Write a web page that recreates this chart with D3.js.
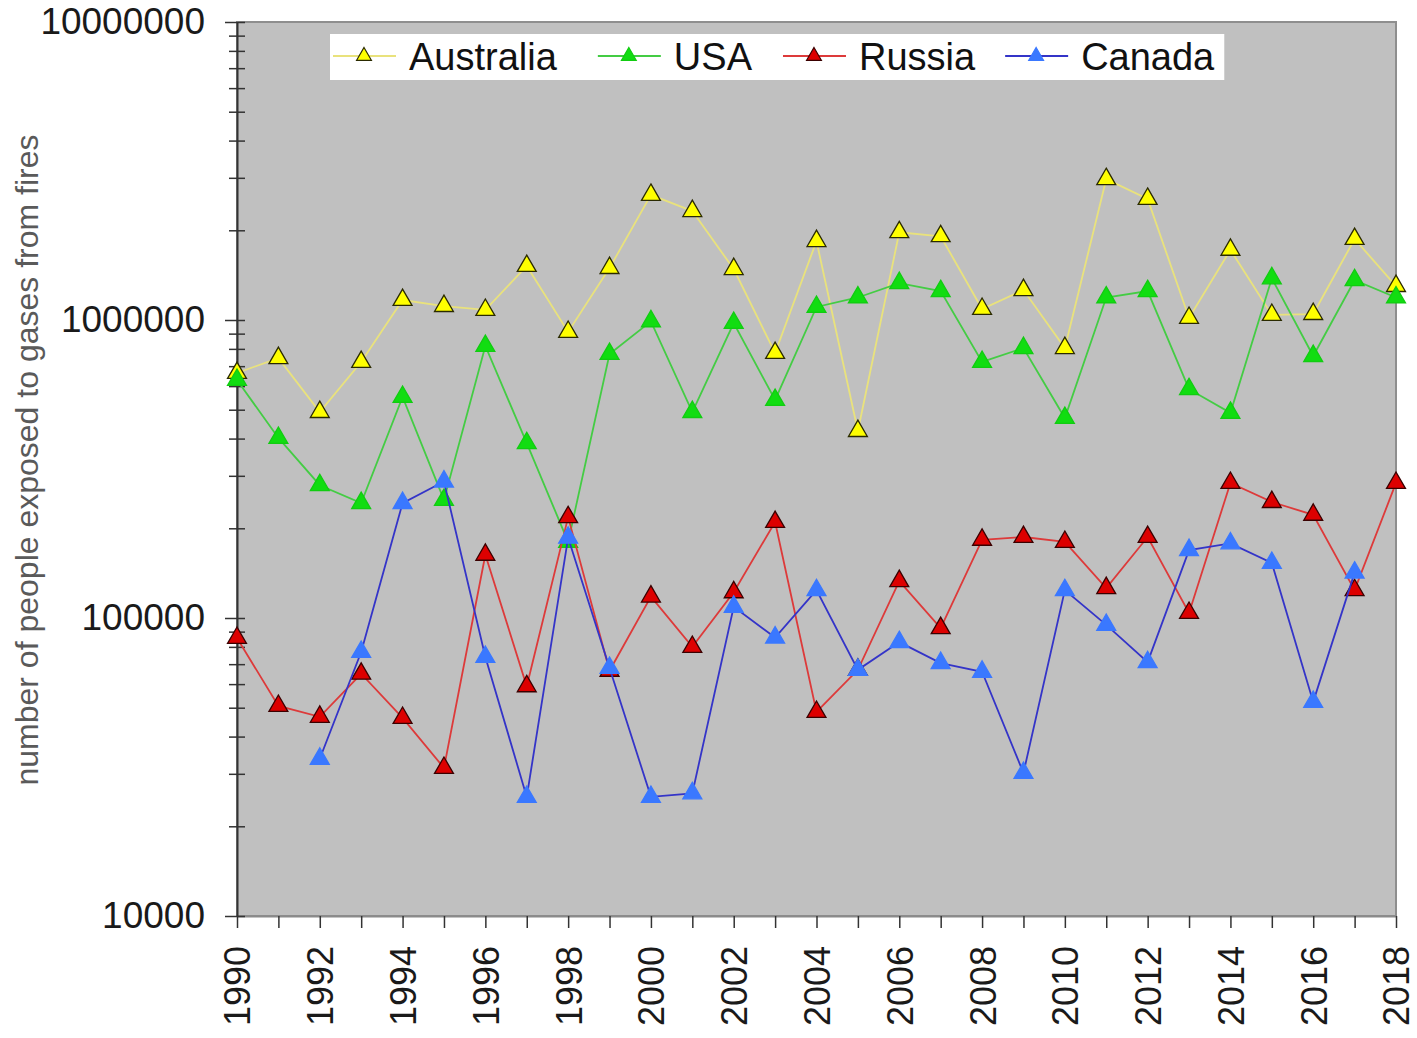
<!DOCTYPE html>
<html>
<head>
<meta charset="utf-8">
<script src="https://cdn.jsdelivr.net/npm/d3@7"></script>
<style>
  body { margin: 0; background: #fff; }
  svg { display: block; font-family: Arial, "Liberation Sans", sans-serif; }
</style>
</head>
<body>
<svg id="chart" width="1417" height="1038"></svg>
<script>
// data (people exposed to gases from fires)
var years = d3.range(1990, 2019);
var australia = [664000, 745000, 491000, 723000, 1167000, 1114000, 1081000, 1518000, 912000, 1494000,
                 2630000, 2320000, 1482000, 775000, 1840000, 424000, 1970000, 1910000, 1089000, 1260000,
                 805000, 2970000, 2550000, 1016000, 1720000, 1040000, 1047000, 1870000, 1300000];
var usa = [629000, 402000, 279000, 243000, 552000, 249000, 818000, 386000, 180000, 769000,
           990000, 491000, 977000, 539000, 1106000, 1190000, 1330000, 1250000, 723000, 805000,
           469000, 1190000, 1250000, 586000, 488000, 1380000, 757000, 1360000, 1190000];
var russia = [85700, 50700, 46600, 65000, 46200, 31400, 163000, 59000, 218000, 66500,
              118000, 80000, 122000, 210000, 48400, 67000, 133000, 92500, 183000, 187000,
              180000, 126000, 187000, 104000, 284000, 245000, 222000, 124000, 284000];
var canada = [null, null, 33700, 76900, 243000, 287000, 74000, 25100, 186000, 68000,
              25100, 25800, 109000, 86000, 124000, 67000, 83000, 70600, 66000, 30200,
              124000, 94800, 71100, 169000, 178000, 153000, 52300, 142000, null];
var seriesNames = ["Australia", "USA", "Russia", "Canada"];
var yTicks = [10000, 100000, 1000000, 10000000];

var series = [
  {name: seriesNames[0], values: australia, line: "#e9e27c", fill: "#ffff00", stroke: "#2a2a00"},
  {name: seriesNames[1], values: usa,       line: "#44cc44", fill: "#11dd11", stroke: "#11cc11"},
  {name: seriesNames[2], values: russia,    line: "#dd3a3a", fill: "#dd0000", stroke: "#3a0000"},
  {name: seriesNames[3], values: canada,    line: "#3434c8", fill: "#3a78ff", stroke: "#3a78ff"}
];

var svg = d3.select("#chart");
var plot = {left: 237, right: 1396, top: 22, bottom: 916};

var x = d3.scaleLinear().domain([1990, 2018]).range([plot.left, plot.right]);
var y = d3.scaleLog().domain([10000, 10000000]).range([plot.bottom, plot.top]);

// plot background with grey frame
svg.append("rect")
  .attr("x", plot.left).attr("y", plot.top)
  .attr("width", plot.right - plot.left).attr("height", plot.bottom - plot.top)
  .attr("fill", "#c0c0c0")
  .attr("stroke", "#8e8e8e").attr("stroke-width", 2);

// x axis
var xAxis = svg.append("g")
  .attr("transform", "translate(0," + plot.bottom + ")")
  .call(d3.axisBottom(x).tickValues(years)
        .tickFormat(d => d % 2 === 0 ? d : "")
        .tickSize(12).tickSizeOuter(0));
xAxis.select(".domain").attr("stroke", "#8a8a8a").attr("stroke-width", 2);
xAxis.selectAll(".tick line").attr("stroke", "#333").attr("stroke-width", 1.5);
xAxis.selectAll(".tick text")
  .attr("transform", "rotate(-90)")
  .attr("text-anchor", "end")
  .attr("x", -30).attr("y", 0).attr("dy", "0.36em")
  .attr("font-size", 36).attr("fill", "#1a1a1a")
  .style("font-family", "Arial, 'Liberation Sans', sans-serif");

// y axis, major ticks crossing the axis line
var yAxis = svg.append("g")
  .attr("transform", "translate(" + plot.left + ",0)")
  .call(d3.axisLeft(y).tickValues(yTicks).tickFormat(d3.format("d"))
        .tickSize(12).tickSizeOuter(0).tickPadding(20));
yAxis.select(".domain").attr("stroke", "#333").attr("stroke-width", 2);
yAxis.selectAll(".tick line").attr("x2", 8).attr("x1", -12).attr("stroke", "#333").attr("stroke-width", 1.5);
yAxis.selectAll(".tick text")
  .attr("font-size", 37).attr("fill", "#1a1a1a")
  .style("font-family", "Arial, 'Liberation Sans', sans-serif");

// minor ticks 2..9 of each decade
var minor = [];
[10000, 100000, 1000000].forEach(function(d) {
  for (var k = 2; k <= 9; k++) minor.push(d * k);
});
var yMinor = svg.append("g")
  .attr("transform", "translate(" + plot.left + ",0)")
  .call(d3.axisLeft(y).tickValues(minor).tickFormat("").tickSizeOuter(0));
yMinor.select(".domain").remove();
yMinor.selectAll(".tick line").attr("x1", -8).attr("x2", 8).attr("stroke", "#333").attr("stroke-width", 1.5);

// y axis title
svg.append("text")
  .attr("transform", "translate(38," + 460 + ") rotate(-90)")
  .attr("text-anchor", "middle")
  .attr("font-size", 32)
  .attr("fill", "#5a5a5a")
  .text("number of people exposed to gases from fires");

// series
var tri = d3.symbol().type(d3.symbolTriangle).size(155);
var line = d3.line()
  .defined(d => d.v != null)
  .x(d => x(d.year))
  .y(d => y(d.v));

series.forEach(function(s) {
  var pts = years.map((yr, i) => ({year: yr, v: s.values[i]}));
  var g = svg.append("g").attr("class", "series");
  g.append("path")
    .datum(pts)
    .attr("d", line)
    .attr("fill", "none")
    .attr("stroke", s.line)
    .attr("stroke-width", 1.8);
  g.selectAll("path.mark")
    .data(pts.filter(d => d.v != null))
    .enter().append("path")
    .attr("class", "mark")
    .attr("d", tri)
    .attr("transform", d => "translate(" + x(d.year) + "," + y(d.v) + ")")
    .attr("fill", s.fill)
    .attr("stroke", s.stroke)
    .attr("stroke-width", 1.3);
});

// legend
var legend = svg.append("g");
var legendBox = legend.append("rect")
  .attr("x", 330).attr("y", 34)
  .attr("height", 46)
  .attr("fill", "#fff");
var lx = 333, gaps = [41, 31, 30, 0];
series.forEach(function(s, i) {
  var item = legend.append("g").attr("transform", "translate(" + lx + ",56)");
  item.append("line")
    .attr("x1", 0).attr("x2", 63).attr("y1", 0).attr("y2", 0)
    .attr("stroke", s.line).attr("stroke-width", 2);
  item.append("path")
    .attr("d", d3.symbol().type(d3.symbolTriangle).size(95)())
    .attr("transform", "translate(31,0)")
    .attr("fill", s.fill).attr("stroke", s.stroke).attr("stroke-width", 1.2);
  var t = item.append("text")
    .attr("x", 76).attr("y", 0).attr("dy", "0.36em")
    .attr("font-size", 38).attr("fill", "#111")
    .text(s.name);
  lx += 76 + t.node().getComputedTextLength() + gaps[i];
});
legendBox.attr("width", lx + 10 - 330);
</script>
</body>
</html>
